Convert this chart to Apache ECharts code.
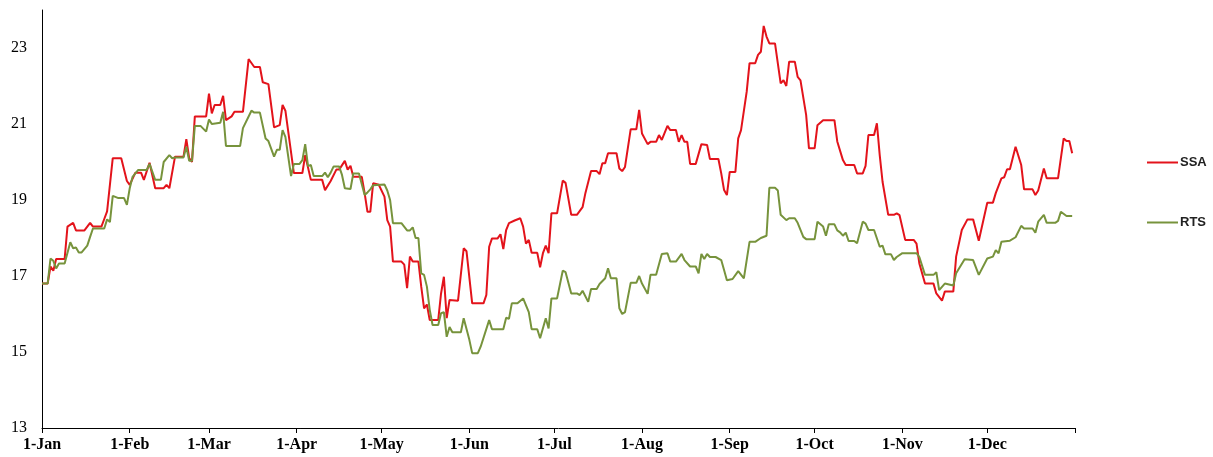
<!DOCTYPE html>
<html>
<head>
<meta charset="utf-8">
<script src="https://cdn.jsdelivr.net/npm/echarts@6/dist/echarts.min.js"></script>
<style>
html,body{margin:0;padding:0;background:#fff;}
#chart{width:1213px;height:457px;}
</style>
</head>
<body>
<div id="chart"></div>
<script>
// x = day of year (0 = 1-Jan), y = value
const monthStartDays = [0,31,59,90,120,151,181,212,243,273,304,334,365];
const monthLabels = ['1-Jan','1-Feb','1-Mar','1-Apr','1-May','1-Jun','1-Jul','1-Aug','1-Sep','1-Oct','1-Nov','1-Dec'];
const yTicks = [13,15,17,19,21,23];

const ssaPoints = [[0,16.8],[2,16.8],[3,17.25],[4,17.14],[5,17.45],[8,17.45],[9,18.3],[11,18.4],[12,18.2],[15,18.2],[17,18.4],[18,18.3],[21,18.3],[22,18.5],[23,18.7],[25,20.1],[28,20.1],[30,19.5],[31,19.4],[33,19.72],[35,19.72],[36,19.53],[38,19.98],[40,19.31],[43,19.31],[44,19.4],[45,19.31],[47,20.14],[50,20.14],[51,20.6],[52,20.1],[53,20.0],[54,21.2],[58,21.2],[59,21.8],[60,21.28],[61,21.5],[63,21.5],[64,21.74],[65,21.1],[67,21.2],[68,21.32],[71,21.32],[73,22.71],[75,22.5],[77,22.5],[78,22.1],[80,22.05],[82,20.91],[84,20.97],[85,21.5],[86,21.35],[89,19.71],[92,19.71],[93,20.18],[95,19.53],[99,19.53],[100,19.26],[102,19.5],[104,19.8],[105,19.8],[107,20.03],[108,19.8],[109,19.9],[110,19.61],[113,19.61],[114,19.18],[115,18.69],[116,18.69],[117,19.44],[119,19.4],[121,19.09],[122,18.47],[123,18.3],[124,17.38],[127,17.38],[128,17.3],[129,16.68],[130,17.51],[131,17.38],[133,17.38],[134,16.72],[135,16.15],[136,16.25],[137,15.84],[140,15.84],[141,16.54],[142,16.98],[143,15.89],[144,16.37],[147,16.35],[149,17.73],[150,17.65],[152,16.28],[156,16.28],[157,16.5],[158,17.77],[159,17.99],[161,17.99],[162,18.1],[163,17.71],[164,18.21],[165,18.39],[167,18.46],[169,18.52],[170,18.3],[171,17.85],[172,17.95],[173,17.61],[175,17.61],[176,17.23],[177,17.6],[178,17.8],[179,17.6],[180,18.65],[182,18.65],[184,19.51],[185,19.45],[187,18.61],[189,18.61],[191,18.81],[192,19.18],[194,19.76],[196,19.76],[197,19.68],[198,19.97],[199,19.97],[200,20.23],[203,20.23],[204,19.83],[205,19.76],[206,19.87],[208,20.86],[210,20.86],[211,21.37],[212,20.75],[214,20.47],[215,20.53],[217,20.53],[218,20.71],[219,20.58],[221,20.95],[222,20.84],[224,20.84],[225,20.53],[226,20.71],[227,20.53],[228,20.53],[229,19.95],[231,19.95],[233,20.47],[235,20.45],[236,20.08],[239,20.08],[240,19.7],[241,19.26],[242,19.13],[243,19.74],[245,19.74],[246,20.62],[247,20.84],[249,21.85],[250,22.6],[252,22.6],[253,22.82],[254,22.9],[255,23.58],[256,23.3],[257,23.12],[259,23.12],[261,22.07],[262,22.15],[263,22.0],[264,22.64],[266,22.64],[267,22.24],[268,22.15],[270,21.24],[271,20.36],[273,20.36],[274,20.97],[276,21.1],[280,21.1],[281,20.54],[283,20.05],[284,19.92],[287,19.92],[288,19.7],[290,19.7],[291,19.9],[292,20.71],[294,20.71],[295,21.02],[296,20.18],[297,19.48],[299,18.61],[301,18.61],[302,18.65],[303,18.6],[305,17.95],[308,17.95],[309,17.85],[310,17.33],[312,16.8],[315,16.8],[316,16.54],[318,16.35],[319,16.59],[322,16.59],[323,17.51],[325,18.21],[327,18.49],[329,18.49],[330,18.21],[331,17.93],[334,18.93],[336,18.93],[337,19.18],[339,19.57],[340,19.6],[341,19.81],[342,19.81],[344,20.4],[346,19.92],[347,19.28],[350,19.28],[351,19.13],[352,19.25],[354,19.83],[355,19.57],[359,19.57],[361,20.62],[362,20.55],[363,20.55],[364,20.23]];

const rtsPoints = [[0,16.8],[2,16.8],[3,17.46],[4,17.4],[5,17.2],[6,17.33],[8,17.33],[10,17.89],[11,17.73],[12,17.75],[13,17.62],[14,17.62],[16,17.8],[17,18.03],[18,18.25],[22,18.25],[23,18.49],[24,18.42],[25,19.11],[27,19.05],[29,19.05],[30,18.87],[31,19.31],[32,19.61],[34,19.79],[37,19.79],[38,19.95],[40,19.53],[42,19.53],[43,20.0],[45,20.18],[46,20.1],[47,20.12],[50,20.12],[51,20.4],[52,20.03],[53,20.03],[54,20.95],[56,20.95],[58,20.8],[59,21.12],[60,21.0],[63,21.03],[64,21.32],[65,20.42],[70,20.42],[71,20.89],[74,21.35],[75,21.3],[77,21.3],[79,20.62],[80,20.55],[82,20.14],[83,20.32],[84,20.32],[85,20.84],[86,20.66],[88,19.63],[89,19.95],[91,19.95],[92,20.05],[93,20.47],[94,19.89],[95,19.92],[96,19.63],[99,19.63],[100,19.72],[101,19.6],[102,19.72],[103,19.88],[105,19.88],[106,19.66],[107,19.31],[109,19.29],[110,19.7],[112,19.7],[114,19.13],[115,19.2],[116,19.28],[117,19.39],[121,19.41],[122,19.25],[123,19.0],[124,18.39],[127,18.39],[129,18.2],[130,18.2],[131,18.28],[132,18.0],[133,18.0],[134,17.07],[135,17.03],[136,16.72],[137,16.11],[138,15.71],[140,15.71],[141,16.02],[142,16.05],[143,15.4],[144,15.66],[145,15.52],[148,15.52],[149,15.89],[151,15.32],[152,14.97],[154,14.97],[155,15.14],[158,15.84],[159,15.6],[163,15.6],[164,15.9],[165,15.87],[166,16.28],[168,16.28],[170,16.41],[172,16.05],[173,15.6],[175,15.6],[176,15.36],[178,15.89],[179,15.62],[180,16.41],[182,16.41],[184,17.14],[185,17.1],[187,16.54],[189,16.54],[190,16.5],[191,16.61],[193,16.32],[194,16.66],[196,16.66],[197,16.79],[199,16.94],[200,17.2],[201,16.94],[203,16.94],[204,16.15],[205,16.0],[206,16.05],[208,16.82],[210,16.82],[211,17.0],[212,16.8],[214,16.53],[215,17.03],[217,17.03],[219,17.58],[221,17.6],[222,17.38],[224,17.38],[226,17.58],[227,17.42],[229,17.25],[231,17.25],[232,17.07],[233,17.58],[234,17.45],[235,17.58],[236,17.5],[238,17.5],[240,17.42],[241,17.16],[242,16.89],[244,16.92],[246,17.13],[248,16.94],[250,17.9],[252,17.9],[254,18.0],[256,18.06],[257,19.32],[259,19.32],[260,19.25],[261,18.61],[263,18.47],[264,18.52],[266,18.52],[267,18.4],[269,18.03],[270,17.97],[273,17.97],[274,18.43],[276,18.3],[277,18.06],[278,18.36],[280,18.36],[281,18.2],[282,18.15],[283,18.06],[284,18.14],[285,17.92],[287,17.92],[288,17.86],[290,18.43],[291,18.38],[292,18.21],[294,18.21],[296,17.77],[297,17.8],[298,17.57],[300,17.57],[301,17.42],[302,17.5],[304,17.6],[309,17.6],[310,17.5],[312,17.03],[315,17.03],[316,17.1],[317,16.63],[319,16.8],[322,16.75],[323,17.07],[326,17.44],[329,17.42],[331,17.03],[334,17.46],[336,17.51],[337,17.68],[338,17.6],[339,17.9],[342,17.93],[344,18.02],[346,18.32],[347,18.25],[350,18.25],[351,18.14],[352,18.43],[354,18.61],[355,18.4],[358,18.4],[359,18.45],[360,18.69],[362,18.58],[364,18.58]];

const chart = echarts.init(document.getElementById('chart'), null, {renderer: 'canvas'});
chart.setOption({
  animation: false,
  backgroundColor: '#ffffff',
  grid: {left: 42, right: 138, top: 10, bottom: 29, containLabel: false},
  legend: {
    orient: 'vertical',
    left: 1142,
    top: 151,
    itemGap: 47,
    itemWidth: 31,
    itemHeight: 2,
    icon: 'rect',
    textStyle: {fontFamily: 'Liberation Sans', fontWeight: 'bold', fontSize: 13, color: '#222', padding: [0,0,0,-3]},
    data: ['SSA', 'RTS']
  },
  xAxis: {
    type: 'value',
    min: 0,
    max: 365,
    splitLine: {show: false},
    axisLine: {show: true, onZero: false, lineStyle: {color: '#000', width: 1}},
    axisTick: {show: true, length: 5, customValues: monthStartDays, lineStyle: {color: '#000'}},
    axisLabel: {
      customValues: monthStartDays.slice(0, monthLabels.length),
      formatter: function (v) { const i = monthStartDays.indexOf(v); return i >= 0 && i < monthLabels.length ? monthLabels[i] : ''; },
      fontFamily: 'Liberation Serif',
      fontWeight: 'bold',
      fontSize: 16,
      color: '#000',
      margin: 9
    }
  },
  yAxis: {
    type: 'value',
    min: 13,
    max: 24,
    splitLine: {show: false},
    axisLine: {show: true, lineStyle: {color: '#000', width: 1}},
    axisTick: {show: false},
    axisLabel: {
      customValues: yTicks,
      fontFamily: 'Liberation Serif',
      fontSize: 16,
      color: '#000',
      margin: 15
    }
  },
  series: [
    {
      name: 'SSA',
      type: 'line',
      data: ssaPoints,
      showSymbol: false,
      symbol: 'none',
      lineStyle: {color: '#e3131b', width: 2},
      itemStyle: {color: '#e3131b'}
    },
    {
      name: 'RTS',
      type: 'line',
      data: rtsPoints,
      showSymbol: false,
      symbol: 'none',
      lineStyle: {color: '#77933c', width: 2},
      itemStyle: {color: '#77933c'}
    }
  ]
});
</script>
</body>
</html>
